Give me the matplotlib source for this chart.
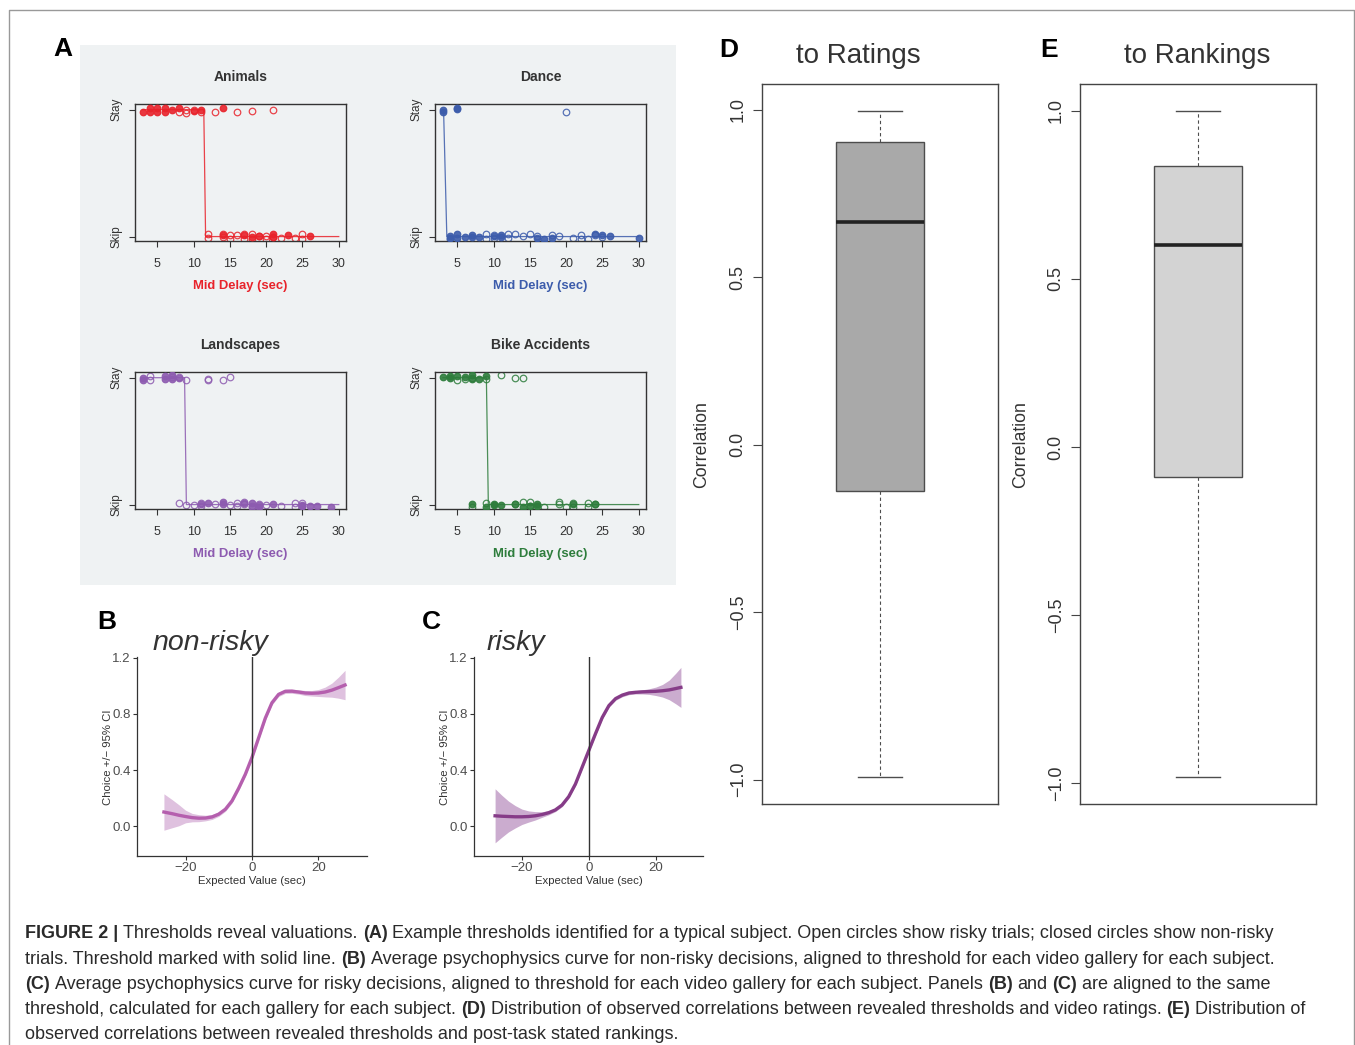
import matplotlib
matplotlib.use("Agg")
import matplotlib.pyplot as plt
from matplotlib.patches import Rectangle
from matplotlib.lines import Line2D

plt.rcParams['font.family'] = ['Liberation Sans', 'DejaVu Sans']

W, H = 1355, 1045

# ---------------- panel A: example thresholds for one subject ----------------
# closed = non-risky trials, open = risky trials; y is choice (1 Stay, 0 Skip) with jitter
animals_closed_x = [3, 4, 4, 5, 5, 6, 6, 7, 8, 10, 11, 14, 14, 17, 18, 19, 21, 21, 23, 26]
animals_closed_y = [0.984, 1.016, 0.984, 1.016, 0.984, 1.01, 0.984, 1.0, 1.016, 0.99, 1.0, 1.016,
                    0.013, 0.013, -0.003, 0.003, 0.018, -0.003, 0.01, 0.005]
animals_open_x = [8, 9, 9, 10, 11, 13, 16, 18, 21, 12, 12, 14, 14, 15, 15, 16, 17, 17, 18, 18, 19,
                  20, 20, 21, 22, 24, 25, 25]
animals_open_y = [0.984, 1.0, 0.976, 0.995, 0.98, 0.984, 0.98, 0.986, 0.997, 0.021, -0.013, 0.02, 0.0,
                  0.013, -0.016, 0.013, 0.02, -0.016, 0.02, -0.021, 0.003, 0.003, -0.021, 0.0, -0.01,
                  -0.01, 0.018, -0.016]
animals_thr_x = [3, 11.4, 11.65, 30]
animals_thr_y = [1, 1, 0, 0]

dance_closed_x = [3, 3, 5, 5, 4, 4, 5, 5, 6, 7, 7, 8, 10, 11, 11, 16, 17, 18, 24, 25, 26, 30]
dance_closed_y = [0.997, 0.98, 1.01, 1.005, 0.008, -0.013, 0.018, -0.008, 0.0, 0.013, -0.003, -0.003,
                  0.003, 0.013, -0.005, -0.01, -0.018, -0.01, 0.018, 0.013, 0.005, -0.013]
dance_open_x = [20, 4, 9, 9, 10, 10, 12, 12, 13, 14, 15, 16, 18, 19, 21, 22, 22, 23, 24, 25]
dance_open_y = [0.98, -0.021, 0.018, -0.016, 0.016, -0.01, 0.018, -0.008, 0.018, 0.003, 0.018, 0.005,
                0.013, 0.003, -0.01, 0.01, -0.016, -0.016, 0.013, 0.0]
dance_thr_x = [3, 3.1, 3.55, 30]
dance_thr_y = [1, 1, 0, 0]

landscapes_closed_x = [3, 3, 6, 6, 7, 7, 8, 11, 12, 14, 14, 17, 18, 18, 19, 19, 21, 25, 25, 26, 27, 29]
landscapes_closed_y = [0.995, 0.98, 1.016, 0.992, 1.018, 0.99, 1.0, 0.008, 0.013, 0.018, 0.005, 0.016,
                       0.011, -0.018, -0.005, -0.018, 0.005, 0.0, -0.013, -0.013, -0.013, -0.018]
landscapes_open_x = [4, 4, 7, 8, 9, 12, 12, 14, 15, 8, 9, 10, 11, 11, 13, 15, 16, 16, 17, 17, 18, 19,
                     20, 22, 24, 24, 25, 25]
landscapes_open_y = [1.013, 0.979, 1.008, 1.008, 0.984, 0.99, 0.984, 0.982, 1.008, 0.016, -0.003,
                     -0.003, 0.013, -0.011, 0.008, -0.005, 0.013, -0.011, 0.021, 0.003, -0.011, 0.005,
                     0.0, -0.011, 0.016, -0.018, 0.011, -0.011]
landscapes_thr_x = [3, 8.75, 9.0, 30]
landscapes_thr_y = [1, 1, 0, 0]

bike_closed_x = [3, 4, 4, 5, 6, 7, 7, 8, 9, 7, 9, 10, 10, 11, 13, 14, 15, 16, 16, 21, 24]
bike_closed_y = [1.005, 1.013, 1.0, 1.013, 1.005, 1.018, 0.99, 0.99, 1.01, 0.008, -0.018, 0.008, 0.0,
                 -0.003, 0.005, -0.018, -0.011, 0.005, -0.013, 0.005, 0.008]
bike_open_x = [5, 6, 7, 9, 11, 13, 14, 7, 9, 13, 14, 15, 15, 17, 19, 19, 20, 21, 21, 23, 23, 24]
bike_open_y = [0.982, 0.987, 1.0, 0.99, 1.021, 1.0, 1.0, -0.018, 0.013, 0.008, 0.021, 0.021, -0.011,
               -0.016, 0.021, 0.005, -0.016, 0.013, -0.018, 0.013, -0.018, 0.005]
bike_thr_x = [3, 9.0, 9.27, 30]
bike_thr_y = [1, 1, 0, 0]

# ---------------- panels B, C: psychophysics curves ----------------
nonrisky_x = [-26.5, -24, -22, -20, -18, -16, -14, -12, -10, -8, -6, -4, -2, 0, 2, 4, 6, 8, 10, 12,
              14, 16, 18, 20, 22, 24, 26, 28]
nonrisky_mean = [0.10, 0.088, 0.077, 0.068, 0.060, 0.056, 0.057, 0.065, 0.085, 0.12, 0.18, 0.27, 0.37,
                 0.49, 0.63, 0.77, 0.88, 0.94, 0.962, 0.963, 0.957, 0.950, 0.948, 0.950, 0.957, 0.970,
                 0.988, 1.007]
nonrisky_lo = [-0.03, -0.012, 0.002, 0.023, 0.030, 0.031, 0.037, 0.047, 0.069, 0.105, 0.165, 0.255,
               0.355, 0.475, 0.615, 0.755, 0.865, 0.925, 0.947, 0.948, 0.942, 0.932, 0.928, 0.925,
               0.922, 0.92, 0.913, 0.902]
nonrisky_hi = [0.23, 0.188, 0.152, 0.113, 0.09, 0.081, 0.077, 0.083, 0.101, 0.135, 0.195, 0.285, 0.385,
               0.505, 0.645, 0.785, 0.895, 0.955, 0.977, 0.978, 0.972, 0.968, 0.968, 0.975, 0.992, 1.02,
               1.063, 1.112]

risky_x = [-28, -26, -24, -22, -20, -18, -16, -14, -12, -10, -8, -6, -4, -2, 0, 2, 4, 6, 8, 10, 12,
           14, 16, 18, 20, 22, 24, 26, 27.5]
risky_mean = [0.073, 0.070, 0.068, 0.066, 0.066, 0.068, 0.073, 0.082, 0.095, 0.115, 0.15, 0.21, 0.30,
              0.42, 0.54, 0.66, 0.775, 0.86, 0.91, 0.935, 0.950, 0.955, 0.958, 0.960, 0.962, 0.966,
              0.972, 0.982, 0.990]
risky_lo = [-0.12, -0.08, -0.042, -0.014, 0.011, 0.028, 0.043, 0.062, 0.08, 0.103, 0.138, 0.198, 0.288,
            0.408, 0.528, 0.648, 0.763, 0.848, 0.898, 0.923, 0.938, 0.943, 0.943, 0.94, 0.932, 0.921,
            0.902, 0.872, 0.847]
risky_hi = [0.266, 0.22, 0.178, 0.146, 0.121, 0.108, 0.103, 0.102, 0.11, 0.127, 0.162, 0.222, 0.312,
            0.432, 0.552, 0.672, 0.787, 0.872, 0.922, 0.947, 0.962, 0.967, 0.973, 0.98, 0.992, 1.011,
            1.042, 1.092, 1.133]

# ---------------- panels D, E: correlation distributions ----------------
# whisker low, q1, median, q3, whisker high
ratings_box = [-0.993, -0.137, 0.665, 0.903, 0.998]
rankings_box = [-0.982, -0.089, 0.599, 0.834, 1.0]
corr_ticks = [-1.0, -0.5, 0.0, 0.5, 1.0]
corr_labels = ['\u22121.0', '\u22120.5', '0.0', '0.5', '1.0']

caption_lines = [
    "**FIGURE 2 |** Thresholds reveal valuations. **(A)** Example thresholds identified for a typical "
    "subject. Open circles show risky trials; closed circles show non-risky",
    "trials. Threshold marked with solid line. **(B)** Average psychophysics curve for non-risky "
    "decisions, aligned to threshold for each video gallery for each subject.",
    "**(C)** Average psychophysics curve for risky decisions, aligned to threshold for each video "
    "gallery for each subject. Panels **(B)** and **(C)** are aligned to the same",
    "threshold, calculated for each gallery for each subject. **(D)** Distribution of observed "
    "correlations between revealed thresholds and video ratings. **(E)** Distribution of",
    "observed correlations between revealed thresholds and post-task stated rankings.",
]


def px_axes(fig, x0, y0, x1, y1):
    return fig.add_axes([x0 / W, 1 - y1 / H, (x1 - x0) / W, (y1 - y0) / H])


def draw_gallery(ax, title, color, cx, cy, ox, oy, tx, ty):
    ax.patch.set_visible(False)
    ax.plot(tx, ty, color=color, lw=0.9, alpha=0.85, zorder=1)
    ax.plot(ox, oy, 'o', ms=4.7, mfc='none', mec=color, mew=0.9, alpha=0.85, zorder=2)
    ax.plot(cx, cy, 'o', ms=4.7, mfc=color, mec=color, mew=0.9, alpha=0.9, zorder=3)
    ax.set_xlim(1.92, 31.0)
    ax.set_ylim(-0.035, 1.045)
    ax.set_xticks([5, 10, 15, 20, 25, 30])
    ax.set_yticks([0, 1], ['Skip', 'Stay'], rotation=90, va='center', fontsize=8.5, color='#333333')
    ax.tick_params(axis='x', labelsize=9, labelcolor='#333333', length=4, pad=8.5, color='#333333')
    ax.tick_params(axis='y', length=4, pad=5, color='#333333')
    for s in ax.spines.values():
        s.set_color('#333333')
        s.set_linewidth(1.0)
    ax.set_title(title, fontsize=10, fontweight='bold', color='#333333', y=1.17, pad=0)
    ax.set_xlabel('Mid Delay (sec)', fontsize=9.4, fontweight='bold', color=color)
    ax.xaxis.set_label_coords(0.5, -0.285)


def draw_curve(ax, x, mean, lo, hi, color, fill, xlim):
    ax.fill_between(x, lo, hi, color=fill, lw=0, zorder=1)
    ax.plot(x, mean, color=color, lw=2.4, zorder=2)
    ax.axvline(0, color='#333333', lw=1.0, zorder=3)
    ax.set_xlim(*xlim)
    ax.set_ylim(-0.214, 1.207)
    ax.set_xticks([-20, 0, 20])
    ax.set_yticks([0, 0.4, 0.8, 1.2], ['0.0', '0.4', '0.8', '1.2'])
    ax.spines['top'].set_visible(False)
    ax.spines['right'].set_visible(False)
    for s in ('left', 'bottom'):
        ax.spines[s].set_color('#333333')
        ax.spines[s].set_linewidth(0.9)
    ax.tick_params(labelsize=9.5, labelcolor='#4d4d4d', length=3, pad=1.5, color='#333333')
    ax.set_xlabel('Expected Value (sec)', fontsize=8.2, color='#333333')
    ax.set_ylabel('Choice +/\u2212 95% CI', fontsize=8.2, color='#333333')
    ax.xaxis.set_label_coords(0.5, -0.098)
    ax.yaxis.set_label_coords(-0.104, 0.497)


def draw_box(ax, q, fill, ylim):
    stats = dict(whislo=q[0], q1=q[1], med=q[2], q3=q[3], whishi=q[4], fliers=[])
    ax.bxp([stats], positions=[1], widths=0.4, capwidths=0.2, patch_artist=True, showfliers=False,
           boxprops=dict(facecolor=fill, edgecolor='#4d4d4d', linewidth=1),
           whiskerprops=dict(color='#4d4d4d', linewidth=0.8, linestyle=(0, (3, 2.5))),
           capprops=dict(color='#4d4d4d', linewidth=1),
           medianprops=dict(color='#222222', linewidth=2.6))
    ax.set_xlim(0.46, 1.54)
    ax.set_ylim(*ylim)
    ax.set_xticks([])
    ax.set_yticks(corr_ticks, corr_labels, rotation=90, va='center', fontsize=13, color='#333333')
    ax.tick_params(axis='y', length=6.5, pad=4.5, color='#444444')
    for s in ax.spines.values():
        s.set_color('#444444')
        s.set_linewidth(1.0)
    ax.set_ylabel('Correlation', fontsize=12.8, color='#333333')


fig = plt.figure(figsize=(W / 100, H / 100), dpi=100)

# outer frame and panel A background
fig.add_artist(Line2D([9 / W, 9 / W, 1353.5 / W, 1353.5 / W],
                      [0, 1 - 9.5 / H, 1 - 9.5 / H, 0], color='#999999', lw=1))
fig.add_artist(Rectangle((80 / W, 1 - 585 / H), 596 / W, 540 / H, color='#eff2f3', lw=0, zorder=0))

galleries = [
    ('Animals', '#e8232b', (135, 104, 346, 241), animals_closed_x, animals_closed_y,
     animals_open_x, animals_open_y, animals_thr_x, animals_thr_y),
    ('Dance', '#3c5cab', (435, 104, 646, 241), dance_closed_x, dance_closed_y,
     dance_open_x, dance_open_y, dance_thr_x, dance_thr_y),
    ('Landscapes', '#8d5bb0', (135, 372, 346, 509), landscapes_closed_x, landscapes_closed_y,
     landscapes_open_x, landscapes_open_y, landscapes_thr_x, landscapes_thr_y),
    ('Bike Accidents', '#2e7d3c', (435, 372, 646, 509), bike_closed_x, bike_closed_y,
     bike_open_x, bike_open_y, bike_thr_x, bike_thr_y),
]
for title, color, box, cx, cy, ox, oy, tx, ty in galleries:
    draw_gallery(px_axes(fig, *box), title, color, cx, cy, ox, oy, tx, ty)

axb = px_axes(fig, 137, 657, 367, 856)
draw_curve(axb, nonrisky_x, nonrisky_mean, nonrisky_lo, nonrisky_hi, '#b55fae', '#dfc1df', (-34.6, 34.6))
axc = px_axes(fig, 474, 657, 703, 856)
draw_curve(axc, risky_x, risky_mean, risky_lo, risky_hi, '#863c88', '#cbaccf', (-34.3, 34.1))

axd = px_axes(fig, 762, 84, 998, 804)
draw_box(axd, ratings_box, '#a9a9a9', (-1.0726, 1.0776))
axd.yaxis.set_label_coords((710 - 762) / 236, 0.4986)
axe = px_axes(fig, 1080, 84, 1316, 804)
draw_box(axe, rankings_box, '#d3d3d3', (-1.061, 1.079))
axe.yaxis.set_label_coords((1029 - 1080) / 236, 0.4986)

# titles and panel letters
fig.text(858 / W, 1 - 63 / H, 'to Ratings', ha='center', va='baseline', fontsize=20, color='#333333')
fig.text(1197 / W, 1 - 63 / H, 'to Rankings', ha='center', va='baseline', fontsize=20, color='#333333')
fig.text(153 / W, 1 - 650 / H, 'non-risky', style='italic', va='baseline', fontsize=20.5, color='#333333')
fig.text(487 / W, 1 - 650 / H, 'risky', style='italic', va='baseline', fontsize=20.5, color='#333333')
for letter, x, y in [('A', 53, 56.5), ('D', 719, 56.7), ('E', 1040, 57), ('B', 97, 629), ('C', 422, 629)]:
    fig.text(x / W, 1 - y / H, letter, fontsize=19, fontweight='bold', color='black', va='baseline')


def rich_line(x, y_bottom, text, size=13.0, color='#2a2a2a'):
    # caption line with **bold** runs, each run placed right after the previous one
    prev = None
    gap_next = False
    for i, part in enumerate(text.split('**')):
        bold = i % 2 == 1
        lead = part.startswith(' ')
        s = part.strip()
        if not s:
            gap_next = gap_next or bool(part)
            continue
        kw = dict(fontsize=size, color=color, fontweight='bold' if bold else 'normal',
                  ha='left', va='bottom')
        if prev is None:
            prev = fig.text(x / W, 1 - y_bottom / H, s, **kw)
        else:
            gap = 0.278 * size if (lead or gap_next) else 0
            prev = fig.add_artist(matplotlib.text.Annotation(
                s, xy=(1, 0), xycoords=prev, xytext=(gap, 0), textcoords='offset points',
                annotation_clip=False, **kw))
        gap_next = part.endswith(' ')


for k, line in enumerate(caption_lines):
    rich_line(25, 942.5 + 25.2 * k, line)

fig.savefig('out.png', dpi=100)
